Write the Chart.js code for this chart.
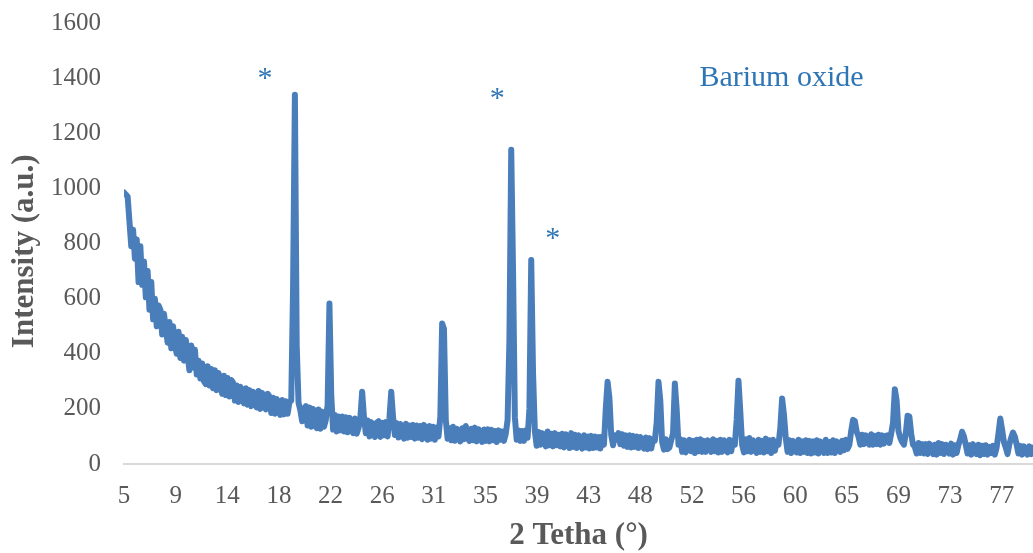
<!DOCTYPE html>
<html><head><meta charset="utf-8">
<script src="https://cdn.jsdelivr.net/npm/chart.js@4.4.1/dist/chart.umd.min.js"></script>
<style>html,body{margin:0;padding:0;background:#fff;} canvas{display:block;}</style>
</head><body>
<canvas id="c" width="1033" height="553"></canvas>
<script>
// 2θ sampling grid (degrees)
const twoThetaStart = 5;
const twoThetaStep = 0.15;

const intensity = [
  985, 978, 970, 880, 790, 850, 745, 815, 660, 790, 650, 735, 605, 700, 560, 660, 525, 600, 500, 575,
  560, 470, 545, 490, 440, 515, 420, 500, 430, 400, 480, 385, 462, 375, 450, 395, 340, 430, 350, 415,
  325, 375, 310, 365, 300, 290, 355, 285, 345, 275, 340, 268, 330, 300, 255, 320, 250, 312, 245, 305,
  295, 230, 285, 225, 280, 250, 220, 275, 215, 268, 210, 262, 240, 205, 265, 200, 258, 218, 198, 255,
  245, 185, 240, 182, 236, 205, 178, 232, 180, 228, 182, 225, 230, 640, 1340, 430, 222, 195, 155, 200,
  210, 140, 205, 135, 200, 150, 130, 198, 128, 190, 135, 160, 215, 582, 250, 125, 178, 118, 172, 122,
  172, 118, 170, 115, 168, 140, 112, 165, 110, 130, 165, 262, 170, 112, 158, 100, 152, 125, 98, 150,
  155, 98, 150, 104, 152, 100, 165, 262, 170, 105, 148, 96, 145, 120, 92, 146, 95, 140, 98, 142,
  92, 140, 95, 138, 90, 142, 112, 88, 138, 92, 135, 88, 132, 100, 170, 510, 490, 160, 92, 130,
  86, 135, 84, 128, 104, 82, 130, 90, 138, 95, 84, 128, 86, 132, 82, 126, 108, 80, 125, 84,
  126, 82, 124, 86, 120, 80, 122, 88, 118, 84, 110, 160, 450, 1140, 700, 170, 88, 122, 84, 120,
  84, 122, 95, 200, 740, 330, 118, 66, 116, 70, 112, 90, 64, 118, 68, 110, 64, 112, 68, 106,
  64, 110, 60, 108, 84, 58, 112, 62, 106, 58, 104, 80, 56, 104, 60, 100, 56, 102, 58, 100,
  60, 98, 56, 100, 70, 200, 298, 240, 105, 68, 104, 88, 112, 72, 108, 66, 104, 62, 104, 60,
  102, 62, 100, 58, 98, 76, 56, 96, 54, 94, 56, 90, 85, 150, 298, 230, 80, 52, 90, 54,
  60, 86, 110, 292, 200, 70, 90, 44, 86, 42, 70, 88, 46, 84, 40, 88, 46, 90, 44, 84,
  44, 86, 66, 44, 90, 46, 84, 42, 88, 44, 86, 62, 42, 88, 46, 84, 70, 160, 302, 190,
  70, 42, 90, 46, 94, 44, 86, 64, 40, 88, 44, 84, 42, 92, 46, 86, 40, 88, 48, 80,
  70, 130, 238, 180, 95, 44, 86, 40, 84, 60, 42, 88, 40, 82, 44, 86, 40, 84, 38, 82,
  42, 86, 38, 82, 60, 40, 88, 40, 80, 42, 86, 40, 82, 60, 44, 84, 50, 88, 55, 70,
  120, 160, 156, 118, 100, 70, 106, 72, 104, 88, 70, 108, 70, 102, 72, 106, 70, 104, 74, 102,
  104, 76, 110, 150, 271, 230, 120, 95, 80, 70, 110, 175, 172, 110, 70, 62, 38, 76, 40, 72,
  38, 72, 36, 74, 56, 36, 70, 34, 76, 40, 72, 36, 70, 54, 38, 74, 34, 68, 40, 70,
  90, 117, 100, 70, 38, 68, 34, 72, 52, 36, 70, 32, 66, 36, 68, 34, 62, 40, 66, 34,
  60, 110, 165, 125, 80, 60, 36, 72, 95, 114, 100, 70, 38, 66, 34, 64, 48, 34, 64, 36,
  60
];

// X tick labels (Excel category labels) and their spacing in degrees
const xTickLabels = ['5','9','14','18','22','26','31','35','39','43','48','52','56','60','65','69','73','77'];
const xTickStep = 4.26;
const xMin = 5, xMax = 80;

// Y ticks
const yTickValues = [0, 200, 400, 600, 800, 1000, 1200, 1400, 1600];

// Annotations: text, 2θ position, intensity (text baseline)
const noteTexts = ['*', '*', '*', 'Barium oxide'];
const noteX = [16.63, 35.80, 40.37, 59.25];
const noteY = [1369, 1294, 788, 1371];

const serif = '"Liberation Serif", "Times New Roman", serif';
const textGray = '#595959';
const lineBlue = '#4a7ebb';
const noteBlue = '#2e75b6';

const points = intensity.map((v, i) => ({ x: twoThetaStart + i * twoThetaStep, y: v }));

const notesPlugin = {
  id: 'notes',
  afterDatasetsDraw(chart) {
    const { ctx, scales: { x, y } } = chart;
    ctx.save();
    ctx.fillStyle = noteBlue;
    ctx.font = '30px ' + serif;
    ctx.textAlign = 'center';
    ctx.textBaseline = 'alphabetic';
    noteTexts.forEach((t, i) => {
      ctx.fillText(t, x.getPixelForValue(noteX[i]), y.getPixelForValue(noteY[i]));
    });
    ctx.restore();
  }
};

new Chart(document.getElementById('c'), {
  type: 'line',
  data: {
    datasets: [{
      data: points,
      borderColor: lineBlue,
      backgroundColor: lineBlue,
      borderWidth: 6,
      pointRadius: 0,
      tension: 0,
      borderJoinStyle: 'round',
      borderCapStyle: 'round',
      fill: false
    }]
  },
  plugins: [notesPlugin],
  options: {
    responsive: false,
    animation: false,
    parsing: false,
    layout: { padding: { top: 23, right: 0, bottom: 0, left: 0 } },
    plugins: { legend: { display: false }, tooltip: { enabled: false } },
    scales: {
      x: {
        type: 'linear',
        min: xMin,
        max: xMax,
        bounds: 'data',
        grid: { display: false, drawTicks: false },
        border: { display: true, color: '#d9d9d9', width: 2 },
        afterBuildTicks: (axis) => {
          axis.ticks = xTickLabels.map((_, i) => ({ value: xMin + i * xTickStep }));
        },
        afterFit: (scale) => { scale.height = 89; scale.paddingLeft = 0; scale.paddingRight = 0; },
        ticks: {
          autoSkip: false,
          maxRotation: 0,
          minRotation: 0,
          padding: 17,
          color: textGray,
          font: { family: serif, size: 25 },
          callback: (value, index) => xTickLabels[index]
        },
        title: {
          display: true,
          text: '2 Tetha (°)',
          color: textGray,
          font: { family: serif, size: 31, weight: 'bold', lineHeight: 1 },
          padding: { top: 0, bottom: 1.5 }
        }
      },
      y: {
        min: yTickValues[0],
        max: yTickValues[yTickValues.length - 1],
        grid: { display: false, drawTicks: false },
        border: { display: false },
        afterFit: (scale) => { scale.width = 124; scale.paddingTop = 0; scale.paddingBottom = 0; },
        ticks: {
          stepSize: yTickValues[1] - yTickValues[0],
          padding: 23,
          color: textGray,
          font: { family: serif, size: 25 },
          callback: (value) => String(value)
        },
        title: {
          display: true,
          text: 'Intensity (a.u.)\u00A0\u00A0',
          color: textGray,
          font: { family: serif, size: 31, weight: 'bold', lineHeight: 1 },
          padding: { top: 9.5, bottom: 0 }
        }
      }
    }
  }
});
</script>
</body></html>
